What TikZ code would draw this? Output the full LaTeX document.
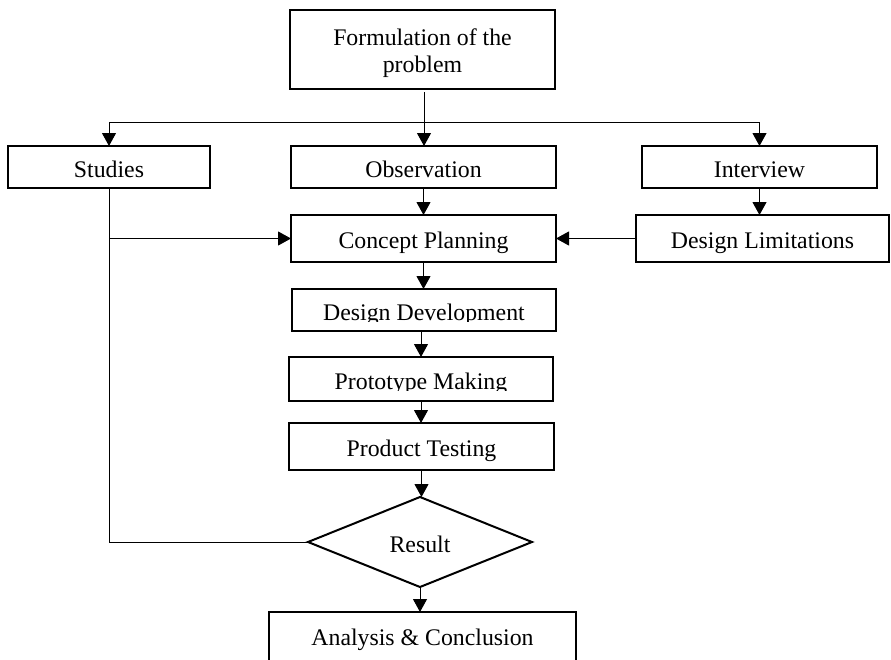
\documentclass[tikz,border=0pt]{standalone}
\usepackage{fontspec}
\setmainfont{Liberation Serif}
\usetikzlibrary{arrows.meta,shapes.geometric}
\tikzset{
  boxnode/.style={draw,line width=2.2pt,inner sep=0pt,outer sep=0pt,text height=22pt,text depth=2pt},
  txtnode/.style={inner sep=0pt,outer sep=0pt,text height=22pt,text depth=2pt},
  conn/.style={line width=1pt},
  arr/.style={line width=1pt,-{Triangle[width=14pt,length=13pt]}},
}
\begin{document}
\begin{tikzpicture}[x=1pt,y=-1pt,font=\fontsize{23.8pt}{27pt}\selectfont]
\clip (0,0) rectangle (891,659);
\fill[white] (0,0) rectangle (891,659);
% boxes
\node[boxnode,minimum width=265pt,minimum height=79pt] (form) at (422.5,49.5) {};
\node[inner sep=0pt,outer sep=0pt,align=center] (formtxt) at ([yshift=-3.5pt]form.center) {Formulation of the\\problem};
\node[boxnode,minimum width=202pt,minimum height=42pt] (stud) at (109,167) {Studies};
\node[boxnode,minimum width=265pt,minimum height=42pt] (obs) at (423.5,167) {Observation};
\node[boxnode,minimum width=235pt,minimum height=42pt] (intv) at (759.5,167) {Interview};
\node[boxnode,minimum width=265pt,minimum height=47pt] (conc) at (423.5,238.5) {Concept Planning};
\node[boxnode,minimum width=253pt,minimum height=47pt] (dlim) at (762.5,238.5) {Design Limitations};
\node[boxnode,minimum width=264pt,minimum height=42pt] (dd) at (424,310) {};
\node[boxnode,minimum width=264pt,minimum height=44pt] (pm) at (421,379) {};
\begin{scope}
  \clip (280,290) rectangle (570,321);
  \node[txtnode] (ddtxt) at (dd.center) {Design Development};
\end{scope}
\begin{scope}
  \clip (280,358) rectangle (570,390);
  \node[txtnode] (pmtxt) at (pm.center) {Prototype Making};
\end{scope}
\node[boxnode,minimum width=265pt,minimum height=47pt] (pt) at (421.5,446.5) {Product Testing};
\node[boxnode,diamond,line width=2pt,aspect=2.49,minimum width=224pt,minimum height=90pt] (res) at (420,542) {};
\node[txtnode] (restxt) at (res.center) {Result};
\node[boxnode,minimum width=307pt,minimum height=52pt,text height=20pt,text depth=6pt] (ana) at (422.5,638) {Analysis \& Conclusion};
% connectors
\coordinate (split) at (424,122);
\draw[conn] ([yshift=-3pt]form.south -| split) -- (split);
\draw[arr] (split) -- (split |- obs.north);
\draw[arr] (split) -| (stud.north);
\draw[arr] (split) -| (intv.north);
\draw[arr] (obs.south) -- (obs.south |- conc.north);
\draw[arr] (intv.south) -- (intv.south |- dlim.north);
\draw[arr] (dlim.west) -- (conc.east);
\draw[arr] (conc.south) -- (conc.south |- dd.north);
\draw[arr] (dd.south -| pm.center) -- (pm.north);
\draw[arr] (pm.south) -- (pm.south |- pt.north);
\draw[arr] (pt.south) -- (pt.south |- res.north);
\draw[arr] (res.south) -- (res.south |- ana.north);
\draw[conn] (stud.south) |- (res.west);
\coordinate (branch) at (stud.south |- conc.west);
\draw[arr] (branch) -- (conc.west);
\end{tikzpicture}
\end{document}
